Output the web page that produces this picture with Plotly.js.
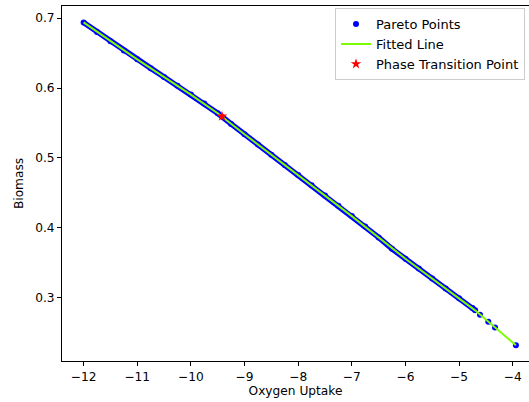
<!DOCTYPE html>
<html>
<head>
<meta charset="utf-8">
<script src="https://cdn.plot.ly/plotly-3.0.1.min.js"></script>
<style>
html,body{margin:0;padding:0;background:#fff;}
#chart{width:529px;height:402px;}
</style>
</head>
<body>
<div id="chart"></div>
<script>
// Pareto points (dense band)
const paretoX = [-12, -11.75, -11.5, -11.25, -11, -10.75, -10.5, -10.25, -10, -9.75, -9.5, -9.25, -9, -8.75, -8.5, -8.25, -8, -7.75, -7.5, -7.25, -7, -6.75, -6.5, -6.25, -6, -5.75, -5.5, -5.25, -5, -4.75, -4.70];
const paretoY = [0.6937, 0.6802, 0.6667, 0.6535, 0.6410, 0.6284, 0.6158, 0.6032, 0.5906, 0.5780, 0.5639, 0.5487, 0.5340, 0.5193, 0.5045, 0.4900, 0.4757, 0.4610, 0.4463, 0.4316, 0.4169, 0.4022, 0.3864, 0.3701, 0.3560, 0.3419, 0.3277, 0.3136, 0.2996, 0.2856, 0.2822];
// isolated Pareto points at the low end
const tailX = [-4.61, -4.455, -4.33, -3.94];
const tailY = [0.2760, 0.2659, 0.2577, 0.2323];
// fitted line
const fitX = [-12, -11, -10, -9.5, -9, -8, -7, -6, -5, -4.7, -3.94];
const fitY = [0.6937, 0.6410, 0.5906, 0.5639, 0.5340, 0.4757, 0.4169, 0.3560, 0.2996, 0.2822, 0.2323];
// phase transition point
const phaseX = [-9.42];
const phaseY = [0.5595];

const xTicks = [-12, -11, -10, -9, -8, -7, -6, -5, -4];
const yTicks = [0.3, 0.4, 0.5, 0.6, 0.7];

const blue = '#0000ff';
const traces = [
  {x: paretoX, y: paretoY, mode: 'lines', line: {color: blue, width: 5.5}, showlegend: false, hoverinfo: 'skip'},
  {x: paretoX.concat(tailX), y: paretoY.concat(tailY), mode: 'markers', name: 'Pareto Points',
   marker: {color: blue, size: 6}, legendrank: 1},
  {x: fitX, y: fitY, mode: 'lines', name: 'Fitted Line', line: {color: '#7cfc00', width: 2}, legendrank: 2},
  {x: phaseX, y: phaseY, mode: 'markers', name: 'Phase Transition Point',
   marker: {color: '#ff0000', symbol: 'star', size: 8}, legendrank: 3}
];

const axisFont = {family: 'DejaVu Sans', size: 12.2, color: '#000'};
const axisCommon = {
  showline: true, linecolor: '#000', linewidth: 1,
  ticks: 'outside', ticklen: 4, tickwidth: 1, tickcolor: '#000',
  showgrid: false, zeroline: false,
  tickfont: axisFont
};

const layout = {
  width: 529, height: 402,
  margin: {l: 62, r: 0, t: 6, b: 41},
  paper_bgcolor: '#fff', plot_bgcolor: '#fff',
  font: axisFont,
  xaxis: Object.assign({}, axisCommon, {
    range: [-12.403, -3.696], tickvals: xTicks, mirror: true,
    title: {text: 'Oxygen Uptake', font: axisFont, standoff: 0}
  }),
  yaxis: Object.assign({}, axisCommon, {
    range: [0.2098, 0.7172], tickvals: yTicks, tickformat: '.1f',
    title: {text: 'Biomass', font: axisFont, standoff: 8}
  }),
  legend: {
    x: 0.5846, y: 0.994, xanchor: 'left', yanchor: 'top',
    traceorder: 'normal',
    bgcolor: 'rgba(255,255,255,0.8)', bordercolor: '#cccccc', borderwidth: 1,
    font: {family: 'DejaVu Sans', size: 13, color: '#000'},
    tracegroupgap: 0
  },
  showlegend: true
};

Plotly.newPlot('chart', traces, layout, {displayModeBar: false, staticPlot: true});
</script>
</body>
</html>
